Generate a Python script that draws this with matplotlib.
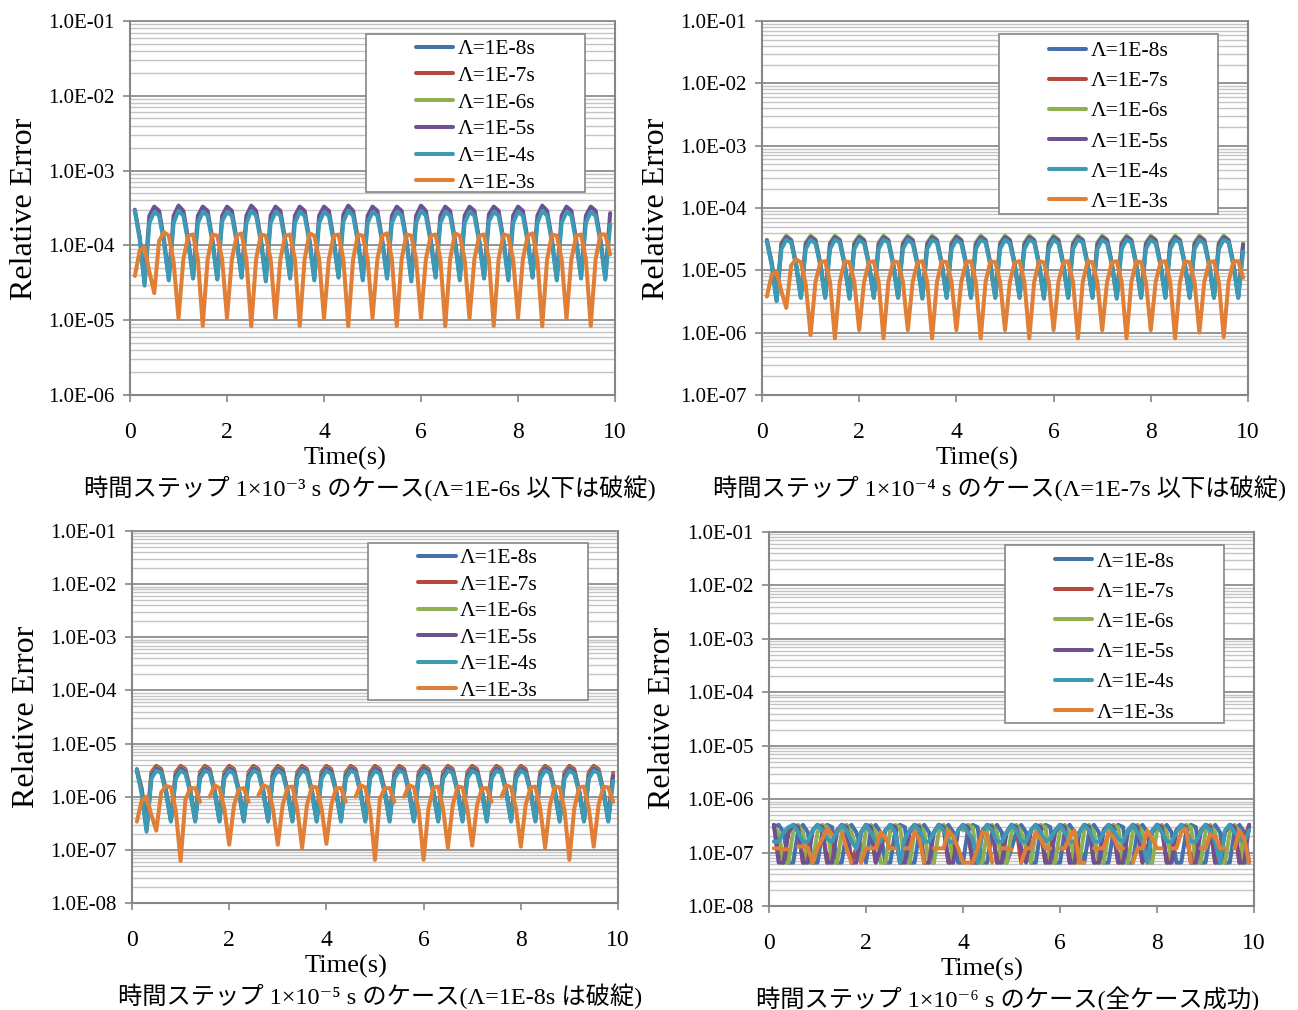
import numpy as np
import matplotlib
matplotlib.use("Agg")
import matplotlib.pyplot as plt
from matplotlib.ticker import LogLocator, FuncFormatter, NullFormatter, FixedLocator
from matplotlib.patches import Rectangle

plt.rcParams['font.family'] = ['Liberation Serif', 'DejaVu Serif', 'Noto Sans CJK JP']

NA = np.nan
# output sample times (s)
time_s = np.round(np.arange(1, 100) * 0.1, 1)

series_labels = ['Λ=1E-8s', 'Λ=1E-7s', 'Λ=1E-6s', 'Λ=1E-5s', 'Λ=1E-4s', 'Λ=1E-3s']
series_colors = ['#4470AD', '#B5473F', '#8EB04F', '#6F5091', '#3C9AB5', '#E07F35']
x_ticks = [0, 2, 4, 6, 8, 10]
y_bottom = [1e-6, 1e-7, 1e-8, 1e-8]
y_top = 1e-1
captions = ['時間ステップ 1×10⁻³ s のケース(Λ=1E-6s 以下は破綻)',
            '時間ステップ 1×10⁻⁴ s のケース(Λ=1E-7s 以下は破綻)',
            '時間ステップ 1×10⁻⁵ s のケース(Λ=1E-8s は破綻)',
            '時間ステップ 1×10⁻⁶ s のケース(全ケース成功)']

# ---------------- panel 1 : dt = 1e-3 s ----------------
p1_lam1e8 = []
p1_lam1e7 = []
p1_lam1e6 = []
p1_lam1e5 = [3.0e-4, 1.3e-4, 3.2e-5, 2.5e-4, 3.3e-4, 2.9e-4, 1.2e-4, 3.6e-5, 2.5e-4, 3.4e-4,
             2.9e-4, 1.2e-4, 3.8e-5, 2.5e-4, 3.3e-4, 2.9e-4, 1.2e-4, 3.6e-5, 2.5e-4, 3.3e-4,
             2.9e-4, 1.2e-4, 3.8e-5, 2.5e-4, 3.4e-4, 2.9e-4, 1.2e-4, 3.6e-5, 2.5e-4, 3.3e-4,
             2.9e-4, 1.2e-4, 3.8e-5, 2.5e-4, 3.3e-4, 2.9e-4, 1.2e-4, 3.6e-5, 2.5e-4, 3.3e-4,
             2.9e-4, 1.2e-4, 3.8e-5, 2.6e-4, 3.4e-4, 2.9e-4, 1.2e-4, 3.6e-5, 2.5e-4, 3.3e-4,
             2.9e-4, 1.2e-4, 3.8e-5, 2.5e-4, 3.3e-4, 2.9e-4, 1.2e-4, 3.6e-5, 2.5e-4, 3.4e-4,
             2.9e-4, 1.2e-4, 3.8e-5, 2.5e-4, 3.3e-4, 2.9e-4, 1.2e-4, 3.6e-5, 2.5e-4, 3.3e-4,
             2.9e-4, 1.2e-4, 3.8e-5, 2.6e-4, 3.3e-4, 2.9e-4, 1.2e-4, 3.6e-5, 2.5e-4, 3.3e-4,
             2.9e-4, 1.2e-4, 3.8e-5, 2.5e-4, 3.4e-4, 2.9e-4, 1.2e-4, 3.6e-5, 2.5e-4, 3.3e-4,
             2.9e-4, 1.2e-4, 3.8e-5, 2.5e-4, 3.3e-4, 2.9e-4, 1.2e-4, 3.7e-5, 2.7e-4]
p1_lam1e4 = [2.9e-4, 1.2e-4, 2.9e-5, 2.0e-4, 2.8e-4, 2.5e-4, 1.1e-4, 3.4e-5, 2.0e-4, 2.9e-4,
             2.5e-4, 1.1e-4, 3.6e-5, 2.0e-4, 2.8e-4, 2.5e-4, 1.1e-4, 3.5e-5, 2.1e-4, 2.8e-4,
             2.5e-4, 1.1e-4, 3.7e-5, 2.0e-4, 2.9e-4, 2.5e-4, 1.1e-4, 3.3e-5, 2.0e-4, 2.8e-4,
             2.5e-4, 1.1e-4, 3.6e-5, 2.0e-4, 2.8e-4, 2.5e-4, 1.1e-4, 3.4e-5, 2.0e-4, 2.8e-4,
             2.5e-4, 1.1e-4, 3.7e-5, 2.1e-4, 2.9e-4, 2.5e-4, 1.1e-4, 3.4e-5, 2.0e-4, 2.8e-4,
             2.5e-4, 1.1e-4, 3.6e-5, 2.0e-4, 2.8e-4, 2.5e-4, 1.1e-4, 3.3e-5, 2.0e-4, 2.9e-4,
             2.5e-4, 1.1e-4, 3.7e-5, 2.0e-4, 2.8e-4, 2.5e-4, 1.1e-4, 3.4e-5, 2.0e-4, 2.8e-4,
             2.5e-4, 1.1e-4, 3.6e-5, 2.1e-4, 2.8e-4, 2.5e-4, 1.1e-4, 3.4e-5, 2.0e-4, 2.8e-4,
             2.5e-4, 1.1e-4, 3.7e-5, 2.0e-4, 2.9e-4, 2.5e-4, 1.1e-4, 3.4e-5, 2.0e-4, 2.8e-4,
             2.5e-4, 1.1e-4, 3.6e-5, 2.0e-4, 2.8e-4, 2.5e-4, 1.1e-4, 3.5e-5, 1.9e-4]
p1_lam1e3 = [3.9e-5, 8.5e-5, 9.5e-5, 4.4e-5, 2.3e-5, 1.15e-4, 1.5e-4, 1.35e-4, 6.0e-5, 1.05e-5,
             6.5e-5, 1.35e-4, 1.4e-4, 6.5e-5, 8.4e-6, 6.5e-5, 1.4e-4, 1.35e-4, 6.5e-5, 1.07e-5,
             6.5e-5, 1.35e-4, 1.45e-4, 6.5e-5, 8.3e-6, 6.5e-5, 1.4e-4, 1.35e-4, 6.5e-5, 1.05e-5,
             6.5e-5, 1.35e-4, 1.4e-4, 6.5e-5, 8.4e-6, 6.5e-5, 1.45e-4, 1.35e-4, 6.5e-5, 1.05e-5,
             6.5e-5, 1.35e-4, 1.4e-4, 6.5e-5, 8.3e-6, 6.5e-5, 1.4e-4, 1.35e-4, 6.5e-5, 1.07e-5,
             6.5e-5, 1.35e-4, 1.45e-4, 6.5e-5, 8.4e-6, 6.5e-5, 1.4e-4, 1.35e-4, 6.5e-5, 1.05e-5,
             6.5e-5, 1.35e-4, 1.4e-4, 6.5e-5, 8.3e-6, 6.5e-5, 1.45e-4, 1.35e-4, 6.5e-5, 1.05e-5,
             6.5e-5, 1.35e-4, 1.4e-4, 6.5e-5, 8.4e-6, 6.5e-5, 1.4e-4, 1.35e-4, 6.5e-5, 1.07e-5,
             6.5e-5, 1.35e-4, 1.45e-4, 6.5e-5, 8.3e-6, 6.5e-5, 1.4e-4, 1.35e-4, 6.5e-5, 1.05e-5,
             6.5e-5, 1.35e-4, 1.4e-4, 6.5e-5, 8.4e-6, 6.5e-5, 1.4e-4, 1.4e-4, 7.6e-5]

# ---------------- panel 2 : dt = 1e-4 s ----------------
p2_lam1e8 = []
p2_lam1e7 = []
p2_lam1e6 = [3.1e-5, 1.35e-5, 3.4e-6, 2.8e-5, 3.6e-5, 3.1e-5, 1.3e-5, 3.8e-6, 2.8e-5, 3.6e-5,
             3.1e-5, 1.3e-5, 3.8e-6, 2.8e-5, 3.6e-5, 3.1e-5, 1.3e-5, 3.8e-6, 2.8e-5, 3.6e-5,
             3.1e-5, 1.3e-5, 3.8e-6, 2.8e-5, 3.6e-5, 3.1e-5, 1.3e-5, 3.8e-6, 2.8e-5, 3.6e-5,
             3.1e-5, 1.3e-5, 3.8e-6, 2.8e-5, 3.6e-5, 3.1e-5, 1.3e-5, 3.8e-6, 2.8e-5, 3.6e-5,
             3.1e-5, 1.3e-5, 3.8e-6, 2.8e-5, 3.6e-5, 3.1e-5, 1.3e-5, 3.8e-6, 2.8e-5, 3.6e-5,
             3.1e-5, 1.3e-5, 3.8e-6, 2.8e-5, 3.6e-5, 3.1e-5, 1.3e-5, 3.8e-6, 2.8e-5, 3.6e-5,
             3.1e-5, 1.3e-5, 3.8e-6, 2.8e-5, 3.6e-5, 3.1e-5, 1.3e-5, 3.8e-6, 2.8e-5, 3.6e-5,
             3.1e-5, 1.3e-5, 3.8e-6, 2.8e-5, 3.6e-5, 3.1e-5, 1.3e-5, 3.8e-6, 2.8e-5, 3.6e-5,
             3.1e-5, 1.3e-5, 3.8e-6, 2.8e-5, 3.6e-5, 3.1e-5, 1.3e-5, 3.8e-6, 2.8e-5, 3.6e-5,
             3.1e-5, 1.3e-5, 3.8e-6, 2.8e-5, 3.6e-5, 3.1e-5, 1.3e-5, 3.8e-6, 2.7e-5]
p2_lam1e5 = [3.0e-5, 1.3e-5, 3.3e-6, 2.6e-5, 3.4e-5, 3.0e-5, 1.25e-5, 3.7e-6, 2.6e-5, 3.4e-5,
             3.0e-5, 1.25e-5, 3.7e-6, 2.6e-5, 3.4e-5, 3.0e-5, 1.25e-5, 3.7e-6, 2.6e-5, 3.4e-5,
             3.0e-5, 1.25e-5, 3.7e-6, 2.6e-5, 3.4e-5, 3.0e-5, 1.25e-5, 3.7e-6, 2.6e-5, 3.4e-5,
             3.0e-5, 1.25e-5, 3.7e-6, 2.6e-5, 3.4e-5, 3.0e-5, 1.25e-5, 3.7e-6, 2.6e-5, 3.4e-5,
             3.0e-5, 1.25e-5, 3.7e-6, 2.6e-5, 3.4e-5, 3.0e-5, 1.25e-5, 3.7e-6, 2.6e-5, 3.4e-5,
             3.0e-5, 1.25e-5, 3.7e-6, 2.6e-5, 3.4e-5, 3.0e-5, 1.25e-5, 3.7e-6, 2.6e-5, 3.4e-5,
             3.0e-5, 1.25e-5, 3.7e-6, 2.6e-5, 3.4e-5, 3.0e-5, 1.25e-5, 3.7e-6, 2.6e-5, 3.4e-5,
             3.0e-5, 1.25e-5, 3.7e-6, 2.6e-5, 3.4e-5, 3.0e-5, 1.25e-5, 3.7e-6, 2.6e-5, 3.4e-5,
             3.0e-5, 1.25e-5, 3.7e-6, 2.6e-5, 3.4e-5, 3.0e-5, 1.25e-5, 3.7e-6, 2.6e-5, 3.4e-5,
             3.0e-5, 1.25e-5, 3.7e-6, 2.6e-5, 3.4e-5, 3.0e-5, 1.25e-5, 3.7e-6, 2.6e-5]
p2_lam1e4 = [2.9e-5, 1.2e-5, 3.2e-6, 2.2e-5, 3.1e-5, 2.8e-5, 1.2e-5, 3.6e-6, 2.2e-5, 3.1e-5,
             2.7e-5, 1.2e-5, 3.6e-6, 2.2e-5, 3.1e-5, 2.8e-5, 1.2e-5, 3.5e-6, 2.2e-5, 3.1e-5,
             2.7e-5, 1.2e-5, 3.6e-6, 2.2e-5, 3.1e-5, 2.8e-5, 1.2e-5, 3.6e-6, 2.2e-5, 3.1e-5,
             2.7e-5, 1.2e-5, 3.5e-6, 2.2e-5, 3.1e-5, 2.8e-5, 1.2e-5, 3.6e-6, 2.2e-5, 3.1e-5,
             2.7e-5, 1.2e-5, 3.6e-6, 2.2e-5, 3.1e-5, 2.8e-5, 1.2e-5, 3.6e-6, 2.2e-5, 3.1e-5,
             2.7e-5, 1.2e-5, 3.6e-6, 2.2e-5, 3.1e-5, 2.8e-5, 1.2e-5, 3.5e-6, 2.2e-5, 3.1e-5,
             2.7e-5, 1.2e-5, 3.6e-6, 2.2e-5, 3.1e-5, 2.8e-5, 1.2e-5, 3.6e-6, 2.2e-5, 3.1e-5,
             2.7e-5, 1.2e-5, 3.5e-6, 2.2e-5, 3.1e-5, 2.8e-5, 1.2e-5, 3.6e-6, 2.2e-5, 3.1e-5,
             2.7e-5, 1.2e-5, 3.6e-6, 2.2e-5, 3.1e-5, 2.8e-5, 1.2e-5, 3.6e-6, 2.2e-5, 3.1e-5,
             2.7e-5, 1.2e-5, 3.6e-6, 2.2e-5, 3.1e-5, 2.8e-5, 1.2e-5, 3.6e-6, 2.0e-5]
p2_lam1e3 = [3.8e-6, 8.5e-6, 9.5e-6, 4.6e-6, 2.5e-6, 1.2e-5, 1.5e-5, 1.35e-5, 6.0e-6, 9.2e-7,
             6.5e-6, 1.35e-5, 1.4e-5, 6.5e-6, 8.1e-7, 6.5e-6, 1.4e-5, 1.35e-5, 6.5e-6, 1.1e-6,
             6.5e-6, 1.35e-5, 1.4e-5, 6.5e-6, 8.1e-7, 6.5e-6, 1.4e-5, 1.35e-5, 6.5e-6, 1.1e-6,
             6.5e-6, 1.35e-5, 1.4e-5, 6.5e-6, 8.1e-7, 6.5e-6, 1.4e-5, 1.35e-5, 6.5e-6, 1.1e-6,
             6.5e-6, 1.35e-5, 1.4e-5, 6.5e-6, 8.1e-7, 6.5e-6, 1.4e-5, 1.35e-5, 6.5e-6, 1.1e-6,
             6.5e-6, 1.35e-5, 1.4e-5, 6.5e-6, 8.1e-7, 6.5e-6, 1.4e-5, 1.35e-5, 6.5e-6, 1.1e-6,
             6.5e-6, 1.35e-5, 1.4e-5, 6.5e-6, 8.1e-7, 6.5e-6, 1.4e-5, 1.35e-5, 6.5e-6, 1.1e-6,
             6.5e-6, 1.35e-5, 1.4e-5, 6.5e-6, 8.1e-7, 6.5e-6, 1.4e-5, 1.35e-5, 6.5e-6, 1.1e-6,
             6.5e-6, 1.35e-5, 1.4e-5, 6.5e-6, 8.1e-7, 6.5e-6, 1.4e-5, 1.35e-5, 6.5e-6, 1.0e-6,
             6.5e-6, 1.35e-5, 1.4e-5, 6.5e-6, 8.5e-7, 6.5e-6, 1.4e-5, 1.4e-5, 7.6e-6]

# ---------------- panel 3 : dt = 1e-5 s ----------------
p3_lam1e8 = []
p3_lam1e7 = [3.3e-6, 1.4e-6, 2.6e-7, 2.9e-6, 3.8e-6, 3.3e-6, 1.3e-6, 3.8e-7, 2.9e-6, 3.8e-6,
             3.3e-6, 1.3e-6, 3.8e-7, 2.9e-6, 3.8e-6, 3.3e-6, 1.3e-6, 3.8e-7, 2.9e-6, 3.8e-6,
             3.3e-6, 1.3e-6, 3.8e-7, 2.9e-6, 3.8e-6, 3.3e-6, 1.3e-6, 3.8e-7, 2.9e-6, 3.8e-6,
             3.3e-6, 1.3e-6, 3.8e-7, 2.9e-6, 3.8e-6, 3.3e-6, 1.3e-6, 3.8e-7, 2.9e-6, 3.8e-6,
             3.3e-6, 1.3e-6, 3.8e-7, 2.9e-6, 3.8e-6, 3.3e-6, 1.3e-6, 3.8e-7, 2.9e-6, 3.8e-6,
             3.3e-6, 1.3e-6, 3.8e-7, 2.9e-6, 3.8e-6, 3.3e-6, 1.3e-6, 3.8e-7, 2.9e-6, 3.8e-6,
             3.3e-6, 1.3e-6, 3.8e-7, 2.9e-6, 3.8e-6, 3.3e-6, 1.3e-6, 3.8e-7, 2.9e-6, 3.8e-6,
             3.3e-6, 1.3e-6, 3.8e-7, 2.9e-6, 3.8e-6, 3.3e-6, 1.3e-6, 3.8e-7, 2.9e-6, 3.8e-6,
             3.3e-6, 1.3e-6, 3.8e-7, 2.9e-6, 3.8e-6, 3.3e-6, 1.3e-6, 3.8e-7, 2.9e-6, 3.8e-6,
             3.3e-6, 1.3e-6, 3.8e-7, 2.9e-6, 3.8e-6, 3.3e-6, 1.3e-6, 3.8e-7, 2.8e-6]
p3_lam1e6 = [3.2e-6, 1.35e-6, 2.5e-7, 2.7e-6, 3.5e-6, 3.1e-6, 1.3e-6, 3.7e-7, 2.7e-6, 3.5e-6,
             3.1e-6, 1.3e-6, 3.7e-7, 2.7e-6, 3.5e-6, 3.1e-6, 1.3e-6, 3.7e-7, 2.7e-6, 3.5e-6,
             3.1e-6, 1.3e-6, 3.7e-7, 2.7e-6, 3.5e-6, 3.1e-6, 1.3e-6, 3.7e-7, 2.7e-6, 3.5e-6,
             3.1e-6, 1.3e-6, 3.7e-7, 2.7e-6, 3.5e-6, 3.1e-6, 1.3e-6, 3.7e-7, 2.7e-6, 3.5e-6,
             3.1e-6, 1.3e-6, 3.7e-7, 2.7e-6, 3.5e-6, 3.1e-6, 1.3e-6, 3.7e-7, 2.7e-6, 3.5e-6,
             3.1e-6, 1.3e-6, 3.7e-7, 2.7e-6, 3.5e-6, 3.1e-6, 1.3e-6, 3.7e-7, 2.7e-6, 3.5e-6,
             3.1e-6, 1.3e-6, 3.7e-7, 2.7e-6, 3.5e-6, 3.1e-6, 1.3e-6, 3.7e-7, 2.7e-6, 3.5e-6,
             3.1e-6, 1.3e-6, 3.7e-7, 2.7e-6, 3.5e-6, 3.1e-6, 1.3e-6, 3.7e-7, 2.7e-6, 3.5e-6,
             3.1e-6, 1.3e-6, 3.7e-7, 2.7e-6, 3.5e-6, 3.1e-6, 1.3e-6, 3.7e-7, 2.7e-6, 3.5e-6,
             3.1e-6, 1.3e-6, 3.7e-7, 2.7e-6, 3.5e-6, 3.1e-6, 1.3e-6, 3.7e-7, 2.6e-6]
p3_lam1e5 = [3.1e-6, 1.3e-6, 2.4e-7, 2.5e-6, 3.4e-6, 3.0e-6, 1.25e-6, 3.6e-7, 2.5e-6, 3.4e-6,
             3.0e-6, 1.25e-6, 3.6e-7, 2.5e-6, 3.4e-6, 3.0e-6, 1.25e-6, 3.6e-7, 2.5e-6, 3.4e-6,
             3.0e-6, 1.25e-6, 3.6e-7, 2.5e-6, 3.4e-6, 3.0e-6, 1.25e-6, 3.6e-7, 2.5e-6, 3.4e-6,
             3.0e-6, 1.25e-6, 3.6e-7, 2.5e-6, 3.4e-6, 3.0e-6, 1.25e-6, 3.6e-7, 2.5e-6, 3.4e-6,
             3.0e-6, 1.25e-6, 3.6e-7, 2.5e-6, 3.4e-6, 3.0e-6, 1.25e-6, 3.6e-7, 2.5e-6, 3.4e-6,
             3.0e-6, 1.25e-6, 3.6e-7, 2.5e-6, 3.4e-6, 3.0e-6, 1.25e-6, 3.6e-7, 2.5e-6, 3.4e-6,
             3.0e-6, 1.25e-6, 3.6e-7, 2.5e-6, 3.4e-6, 3.0e-6, 1.25e-6, 3.6e-7, 2.5e-6, 3.4e-6,
             3.0e-6, 1.25e-6, 3.6e-7, 2.5e-6, 3.4e-6, 3.0e-6, 1.25e-6, 3.6e-7, 2.5e-6, 3.4e-6,
             3.0e-6, 1.25e-6, 3.6e-7, 2.5e-6, 3.4e-6, 3.0e-6, 1.25e-6, 3.6e-7, 2.5e-6, 3.4e-6,
             3.0e-6, 1.25e-6, 3.6e-7, 2.5e-6, 3.4e-6, 3.0e-6, 1.25e-6, 3.6e-7, 2.5e-6]
p3_lam1e4 = [3.2e-6, 1.1e-6, 2.2e-7, 2.2e-6, 3.1e-6, 2.8e-6, 1.2e-6, 3.4e-7, 2.2e-6, 3.1e-6,
             2.7e-6, 1.2e-6, 3.4e-7, 2.2e-6, 3.1e-6, 2.8e-6, 1.2e-6, 3.4e-7, 2.2e-6, 3.1e-6,
             2.7e-6, 1.2e-6, 3.4e-7, 2.2e-6, 3.1e-6, 2.8e-6, 1.2e-6, 3.4e-7, 2.2e-6, 3.1e-6,
             2.7e-6, 1.2e-6, 3.4e-7, 2.2e-6, 3.1e-6, 2.8e-6, 1.2e-6, 3.4e-7, 2.2e-6, 3.1e-6,
             2.7e-6, 1.2e-6, 3.4e-7, 2.2e-6, 3.1e-6, 2.8e-6, 1.2e-6, 3.4e-7, 2.2e-6, 3.1e-6,
             2.7e-6, 1.2e-6, 3.4e-7, 2.2e-6, 3.1e-6, 2.8e-6, 1.2e-6, 3.4e-7, 2.2e-6, 3.1e-6,
             2.7e-6, 1.2e-6, 3.4e-7, 2.2e-6, 3.1e-6, 2.8e-6, 1.2e-6, 3.4e-7, 2.2e-6, 3.1e-6,
             2.7e-6, 1.2e-6, 3.4e-7, 2.2e-6, 3.1e-6, 2.8e-6, 1.2e-6, 3.4e-7, 2.2e-6, 3.1e-6,
             2.7e-6, 1.2e-6, 3.4e-7, 2.2e-6, 3.1e-6, 2.8e-6, 1.2e-6, 3.4e-7, 2.2e-6, 3.1e-6,
             2.7e-6, 1.2e-6, 3.4e-7, 2.2e-6, 3.1e-6, 2.8e-6, 1.2e-6, 3.4e-7, 2.0e-6]
p3_lam1e3 = [3.4e-7, 8.5e-7, 1.0e-6, 4.5e-7, 2.3e-7, 1.2e-6, 1.6e-6, 1.5e-6, 5.5e-7, 6.2e-8,
             9.0e-7, 1.45e-6, 1.45e-6, 8.0e-7, NA, 1.0e-6, 1.65e-6, 1.45e-6, 6.0e-7, 1.25e-7,
             7.0e-7, 1.4e-6, 1.45e-6, 8.0e-7, NA, 1.05e-6, 1.65e-6, 1.5e-6, 6.0e-7, 1.25e-7,
             7.0e-7, 1.5e-6, 1.55e-6, 6.0e-7, 1.1e-7, 7.0e-7, 1.55e-6, 1.5e-6, 6.0e-7, 1.3e-7,
             7.0e-7, 1.45e-6, 1.45e-6, 8.0e-7, NA, 1.0e-6, 1.65e-6, 1.5e-6, 5.5e-7, 6.5e-8,
             9.0e-7, 1.45e-6, 1.45e-6, 8.0e-7, NA, 1.0e-6, 1.65e-6, 1.5e-6, 5.5e-7, 6.5e-8,
             6.0e-7, 1.5e-6, 1.55e-6, 6.0e-7, 1.1e-7, 7.0e-7, 1.55e-6, 1.5e-6, 6.0e-7, 1.2e-7,
             7.0e-7, 1.45e-6, 1.45e-6, 8.0e-7, NA, 1.0e-6, 1.65e-6, 1.5e-6, 6.0e-7, 1.15e-7,
             7.0e-7, 1.5e-6, 1.55e-6, 6.0e-7, 1.1e-7, 7.0e-7, 1.55e-6, 1.5e-6, 5.5e-7, 6.5e-8,
             6.0e-7, 1.5e-6, 1.55e-6, 6.0e-7, 1.15e-7, 7.0e-7, 1.55e-6, 1.5e-6, 8.0e-7]

# ---------------- panel 4 : dt = 1e-6 s ----------------
p4_lam1e8 = [3.0e-7, 3.3e-7, 2.4e-7, 6.5e-8, 6.5e-8, 2.6e-7, 3.3e-7, 2.4e-7, 6.5e-8, 6.5e-8,
             2.4e-7, 3.3e-7, 3.0e-7, 6.5e-8, 6.5e-8, 2.6e-7, 3.3e-7, 2.4e-7, 1.2e-7, 6.5e-8,
             2.6e-7, 3.3e-7, 2.4e-7, 6.5e-8, 6.5e-8, 2.4e-7, 3.3e-7, 3.0e-7, 6.5e-8, 6.5e-8,
             2.4e-7, 3.3e-7, 2.4e-7, 6.5e-8, NA, 2.6e-7, 3.3e-7, 2.4e-7, 6.5e-8, 6.5e-8,
             2.6e-7, 3.3e-7, 3.0e-7, 6.5e-8, 6.5e-8, 2.4e-7, 3.3e-7, 2.4e-7, 6.5e-8, 1.2e-7,
             2.4e-7, 3.3e-7, 2.4e-7, 6.5e-8, 6.5e-8, 2.6e-7, 3.3e-7, 3.0e-7, 6.5e-8, 6.5e-8,
             2.6e-7, 3.3e-7, 2.4e-7, 1.2e-7, 6.5e-8, 2.4e-7, 3.3e-7, 2.4e-7, 6.5e-8, 6.5e-8,
             2.4e-7, 3.3e-7, 3.0e-7, 6.5e-8, 6.5e-8, 2.6e-7, 3.3e-7, 2.4e-7, 6.5e-8, NA,
             2.6e-7, 3.3e-7, 2.4e-7, 6.5e-8, 6.5e-8, 2.4e-7, 3.3e-7, 3.0e-7, 6.5e-8, 6.5e-8,
             2.4e-7, 3.3e-7, 2.4e-7, 6.5e-8, 6.5e-8, 2.6e-7, 3.3e-7, 2.4e-7, 6.5e-8]
p4_lam1e7 = [3.3e-7, 1.2e-7, 6.5e-8, 2.4e-7, 3.3e-7, 3.0e-7, 6.5e-8, 1.2e-7, 2.6e-7, 3.3e-7,
             2.4e-7, 6.5e-8, 1.2e-7, 2.6e-7, 3.3e-7, 3.0e-7, 6.5e-8, 1.2e-7, 2.4e-7, 3.3e-7,
             3.0e-7, 6.5e-8, 1.2e-7, 2.6e-7, 3.3e-7, 2.4e-7, 6.5e-8, 1.2e-7, 2.6e-7, 3.3e-7,
             3.0e-7, 6.5e-8, NA, 2.4e-7, 3.3e-7, 3.0e-7, 6.5e-8, 1.2e-7, 2.6e-7, 3.3e-7,
             2.4e-7, 6.5e-8, 1.2e-7, 2.6e-7, 3.3e-7, 3.0e-7, 6.5e-8, 1.2e-7, 2.4e-7, 3.3e-7,
             3.0e-7, 6.5e-8, 1.2e-7, 2.6e-7, 3.3e-7, 2.4e-7, 6.5e-8, 1.2e-7, 2.6e-7, 3.3e-7,
             3.0e-7, 6.5e-8, 1.2e-7, 2.4e-7, 3.3e-7, 3.0e-7, 6.5e-8, NA, 2.6e-7, 3.3e-7,
             2.4e-7, 6.5e-8, 1.2e-7, 2.6e-7, 3.3e-7, 3.0e-7, 6.5e-8, 1.2e-7, 2.4e-7, 3.3e-7,
             3.0e-7, 6.5e-8, 1.2e-7, 2.6e-7, 3.3e-7, 2.4e-7, 6.5e-8, 1.2e-7, 2.6e-7, 3.3e-7,
             3.0e-7, 6.5e-8, 1.2e-7, 2.4e-7, 3.3e-7, 3.0e-7, 6.5e-8, 1.8e-7, 3.3e-7]
p4_lam1e6 = [3.0e-7, 2.4e-7, 6.5e-8, 6.5e-8, 2.6e-7, 3.3e-7, 2.4e-7, 6.5e-8, 6.5e-8, 2.4e-7,
             3.3e-7, 3.0e-7, 6.5e-8, 6.5e-8, 2.4e-7, 3.3e-7, 2.4e-7, 1.2e-7, 6.5e-8, 2.6e-7,
             3.3e-7, 2.4e-7, 6.5e-8, 6.5e-8, 2.6e-7, 3.3e-7, 3.0e-7, 6.5e-8, 6.5e-8, 2.4e-7,
             3.3e-7, 2.4e-7, 6.5e-8, 6.5e-8, 2.4e-7, 3.3e-7, 2.4e-7, 6.5e-8, NA, 2.6e-7,
             3.3e-7, 3.0e-7, 6.5e-8, 6.5e-8, 2.6e-7, 3.3e-7, 2.4e-7, 6.5e-8, 6.5e-8, 2.4e-7,
             3.3e-7, 2.4e-7, 1.2e-7, 6.5e-8, 2.4e-7, 3.3e-7, 3.0e-7, 6.5e-8, 6.5e-8, 2.6e-7,
             3.3e-7, 2.4e-7, 6.5e-8, 6.5e-8, 2.6e-7, 3.3e-7, 2.4e-7, 6.5e-8, 6.5e-8, 2.4e-7,
             3.3e-7, 3.0e-7, 6.5e-8, 6.5e-8, 2.4e-7, 3.3e-7, 2.4e-7, 6.5e-8, 6.5e-8, 2.6e-7,
             3.3e-7, 2.4e-7, 6.5e-8, NA, 2.6e-7, 3.3e-7, 3.0e-7, 6.5e-8, 6.5e-8, 2.4e-7,
             3.3e-7, 2.4e-7, 6.5e-8, 6.5e-8, 2.4e-7, 3.3e-7, 2.4e-7, 6.5e-8, 6.5e-8]
p4_lam1e5 = [3.3e-7, 6.5e-8, 6.5e-8, 2.4e-7, 3.3e-7, 3.0e-7, 6.5e-8, 6.5e-8, 2.6e-7, 3.3e-7,
             3.0e-7, 6.5e-8, 6.5e-8, 2.4e-7, 3.3e-7, 3.0e-7, 6.5e-8, 6.5e-8, 2.4e-7, 3.3e-7,
             3.0e-7, 6.5e-8, 1.2e-7, 2.6e-7, 3.3e-7, 3.0e-7, 6.5e-8, 6.5e-8, 2.4e-7, 3.3e-7,
             3.0e-7, 6.5e-8, 6.5e-8, 2.4e-7, 3.3e-7, 3.0e-7, 6.5e-8, 6.5e-8, 2.6e-7, 3.3e-7,
             3.0e-7, 6.5e-8, 6.5e-8, 2.4e-7, 3.3e-7, 3.0e-7, 6.5e-8, 6.5e-8, 2.4e-7, 3.3e-7,
             3.0e-7, 1.2e-7, 6.5e-8, 2.6e-7, 3.3e-7, 3.0e-7, 6.5e-8, 6.5e-8, 2.4e-7, 3.3e-7,
             3.0e-7, 6.5e-8, 6.5e-8, 2.4e-7, 3.3e-7, 3.0e-7, 6.5e-8, 6.5e-8, 2.6e-7, 3.3e-7,
             3.0e-7, 6.5e-8, 6.5e-8, 2.4e-7, 3.3e-7, 3.0e-7, 6.5e-8, 1.2e-7, 2.4e-7, 3.3e-7,
             3.0e-7, 6.5e-8, 6.5e-8, 2.6e-7, 3.3e-7, 3.0e-7, 6.5e-8, 6.5e-8, 2.4e-7, 3.3e-7,
             3.0e-7, 6.5e-8, 6.5e-8, 2.4e-7, 3.3e-7, 3.0e-7, 6.5e-8, 6.5e-8, 3.3e-7]
p4_lam1e4 = [1.6e-7, 1.6e-7, 2.4e-7, 3.0e-7, 3.3e-7, 2.4e-7, 1.6e-7, 1.6e-7, 2.6e-7, 3.3e-7,
             2.6e-7, 1.8e-7, 1.6e-7, 2.4e-7, 3.3e-7, 2.6e-7, 1.6e-7, 1.2e-7, 2.4e-7, 3.3e-7,
             2.4e-7, 1.6e-7, 1.6e-7, 2.6e-7, 3.3e-7, 2.4e-7, 6.5e-8, 1.8e-7, 2.6e-7, 3.3e-7,
             2.6e-7, 1.6e-7, 1.6e-7, 2.4e-7, 3.3e-7, 2.6e-7, 1.6e-7, 1.6e-7, 2.6e-7, 3.3e-7,
             2.4e-7, 1.8e-7, 6.5e-8, 2.4e-7, 3.3e-7, 2.6e-7, 1.6e-7, 1.6e-7, 2.4e-7, 3.3e-7,
             2.6e-7, 1.6e-7, 1.6e-7, 2.6e-7, 3.3e-7, 2.4e-7, 1.6e-7, 1.8e-7, 2.6e-7, 3.3e-7,
             2.4e-7, 1.6e-7, 1.6e-7, 2.4e-7, 3.3e-7, 2.6e-7, 1.6e-7, 1.6e-7, 2.4e-7, 3.3e-7,
             2.6e-7, 1.8e-7, 1.6e-7, 2.6e-7, 3.3e-7, 2.4e-7, 1.6e-7, 6.5e-8, 2.6e-7, 3.3e-7,
             2.4e-7, 1.6e-7, 1.6e-7, 2.4e-7, 3.3e-7, 2.6e-7, 1.6e-7, 1.6e-7, 2.4e-7, 3.3e-7,
             2.6e-7, 1.6e-7, 6.5e-8, 2.6e-7, 3.3e-7, 2.4e-7, 1.8e-7, 1.6e-7, 2.6e-7]
p4_lam1e3 = [1.2e-7, 1.2e-7, 1.15e-7, 1.15e-7, NA, 1.3e-7, 1.3e-7, 1.25e-7, 6.5e-8, 1.2e-7,
             1.8e-7, 2.8e-7, 2.2e-7, NA, 2.4e-7, 1.2e-7, 6.5e-8, NA, 6.5e-8, 1.2e-7,
             1.2e-7, 1.2e-7, 2.4e-7, 1.9e-7, 1.2e-7, 1.2e-7, NA, 1.2e-7, 1.2e-7, 2.4e-7,
             1.8e-7, 6.5e-8, NA, 1.2e-7, 1.2e-7, 1.2e-7, 2.6e-7, 2.0e-7, 1.2e-7, 6.5e-8,
             6.5e-8, 6.5e-8, 1.2e-7, 2.4e-7, 2.2e-7, 6.5e-8, NA, 1.2e-7, 1.2e-7, 1.15e-7,
             NA, 6.5e-8, 1.2e-7, 1.2e-7, 2.4e-7, 1.8e-7, 1.2e-7, 1.2e-7, NA, 1.2e-7,
             1.2e-7, 2.0e-7, 2.6e-7, 6.5e-8, 6.5e-8, NA, 1.2e-7, 1.2e-7, 1.2e-7, 2.4e-7,
             2.0e-7, 1.2e-7, 1.2e-7, NA, 6.5e-8, 1.2e-7, 1.2e-7, 2.6e-7, 1.8e-7, 1.2e-7,
             1.2e-7, NA, 1.2e-7, 1.2e-7, 2.4e-7, 2.8e-7, 6.5e-8, NA, 1.2e-7, 1.2e-7,
             2.2e-7, 2.0e-7, 1.2e-7, 1.2e-7, NA, 1.2e-7, 2.6e-7, 1.8e-7, 6.5e-8]

panels = [
    [p1_lam1e8, p1_lam1e7, p1_lam1e6, p1_lam1e5, p1_lam1e4, p1_lam1e3],
    [p2_lam1e8, p2_lam1e7, p2_lam1e6, p2_lam1e5, p2_lam1e4, p2_lam1e3],
    [p3_lam1e8, p3_lam1e7, p3_lam1e6, p3_lam1e5, p3_lam1e4, p3_lam1e3],
    [p4_lam1e8, p4_lam1e7, p4_lam1e6, p4_lam1e5, p4_lam1e4, p4_lam1e3],
]

# ---------------- layout (pixels) ----------------
W, H = 1298, 1010
axes_px = [(130, 21, 615, 395), (762, 21, 1248, 395), (132, 531, 618, 903), (769, 532, 1254, 906)]
legend_px = [(366, 34, 585, 192), (999, 34, 1218, 214), (368, 543, 588, 700), (1005, 545, 1224, 723)]
legend_shift = [3, 2.5, 3, 3]
legend_spacing = [0.31, 0.47, 0.30, 0.47]
ylabel_px = [(25, 209), (657, 209), (27, 717), (663, 718)]
xlabel_px = [(345, 458.5), (977, 458.5), (346, 966.5), (982, 969.5)]
caption_px = [(370, 488), (1000, 488), (380, 996), (1008, 999)]

GRID_MAJOR = '#8c8c8c'
GRID_MINOR = '#c4c4c4'
AXIS_GRAY = '#868686'

fig = plt.figure(figsize=(W / 100, H / 100), dpi=100)
fig.patch.set_facecolor('white')

def fx(x):
    return x / W

def fy(y):
    return 1 - y / H

sci_fmt = FuncFormatter(lambda v, p: '%.1E' % v)

for i in range(4):
    l, t, r, b = axes_px[i]
    ax = fig.add_axes([fx(l), fy(b), (r - l) / W, (b - t) / H])
    lines = []
    for k in range(6):
        vals = panels[i][k]
        if len(vals) > 0:
            ln, = ax.plot(time_s, vals, color=series_colors[k], lw=2.9,
                          solid_joinstyle='round', solid_capstyle='round', zorder=3 + k)
        else:
            ln, = ax.plot([], [], color=series_colors[k], lw=2.9, solid_capstyle='round')
        lines.append(ln)
    ax.set_yscale('log')
    ax.set_ylim(y_bottom[i], y_top)
    ax.set_xlim(0, 10)
    ax.xaxis.set_major_locator(FixedLocator(x_ticks))
    ax.set_xticklabels([str(v) for v in x_ticks])
    ax.yaxis.set_major_locator(LogLocator(base=10, numticks=20))
    ax.yaxis.set_minor_locator(LogLocator(base=10, subs=np.arange(2, 10), numticks=20))
    ax.yaxis.set_major_formatter(sci_fmt)
    ax.yaxis.set_minor_formatter(NullFormatter())
    ax.grid(True, which='major', axis='y', color=GRID_MAJOR, lw=1.3)
    ax.grid(True, which='minor', axis='y', color=GRID_MINOR, lw=1.0)
    ax.grid(False, axis='x')
    ax.set_axisbelow(True)
    for s in ['left', 'bottom', 'right']:
        ax.spines[s].set_color(AXIS_GRAY)
        ax.spines[s].set_linewidth(1.5)
    ax.spines['top'].set_color(GRID_MAJOR)
    ax.spines['top'].set_linewidth(1.3)
    ax.tick_params(axis='y', which='major', direction='out', length=5, width=1.2,
                   color=AXIS_GRAY, labelsize=15, pad=6)
    ax.tick_params(axis='y', which='minor', length=0)
    ax.tick_params(axis='x', which='major', direction='out', length=5, width=1.2,
                   color=AXIS_GRAY, labelsize=17, pad=14.5)

    # legend frame and entries
    ll, lt, lr, lb = legend_px[i]
    fig.add_artist(Rectangle((fx(ll), fy(lb)), (lr - ll) / W, (lb - lt) / H,
                             transform=fig.transFigure, facecolor='white',
                             edgecolor=AXIS_GRAY, lw=1.2, zorder=5))
    leg = fig.legend(lines, series_labels, loc='center',
                     bbox_to_anchor=(fx((ll + lr) / 2), fy((lt + lb) / 2 + legend_shift[i])),
                     bbox_transform=fig.transFigure, frameon=False, fontsize=15.5,
                     labelspacing=legend_spacing[i], handlelength=1.75,
                     handletextpad=0.2, borderpad=0, borderaxespad=0)
    leg.set_zorder(6)

    fig.text(fx(ylabel_px[i][0]), fy(ylabel_px[i][1]), 'Relative Error', rotation=90,
             ha='center', va='center', fontsize=23)
    fig.text(fx(xlabel_px[i][0]), fy(xlabel_px[i][1]), 'Time(s)',
             ha='center', va='center', fontsize=19)
    fig.text(fx(caption_px[i][0]), fy(caption_px[i][1]), captions[i],
             ha='center', va='center', fontsize=17.5)

fig.savefig('out.png', dpi=100, facecolor='white')
